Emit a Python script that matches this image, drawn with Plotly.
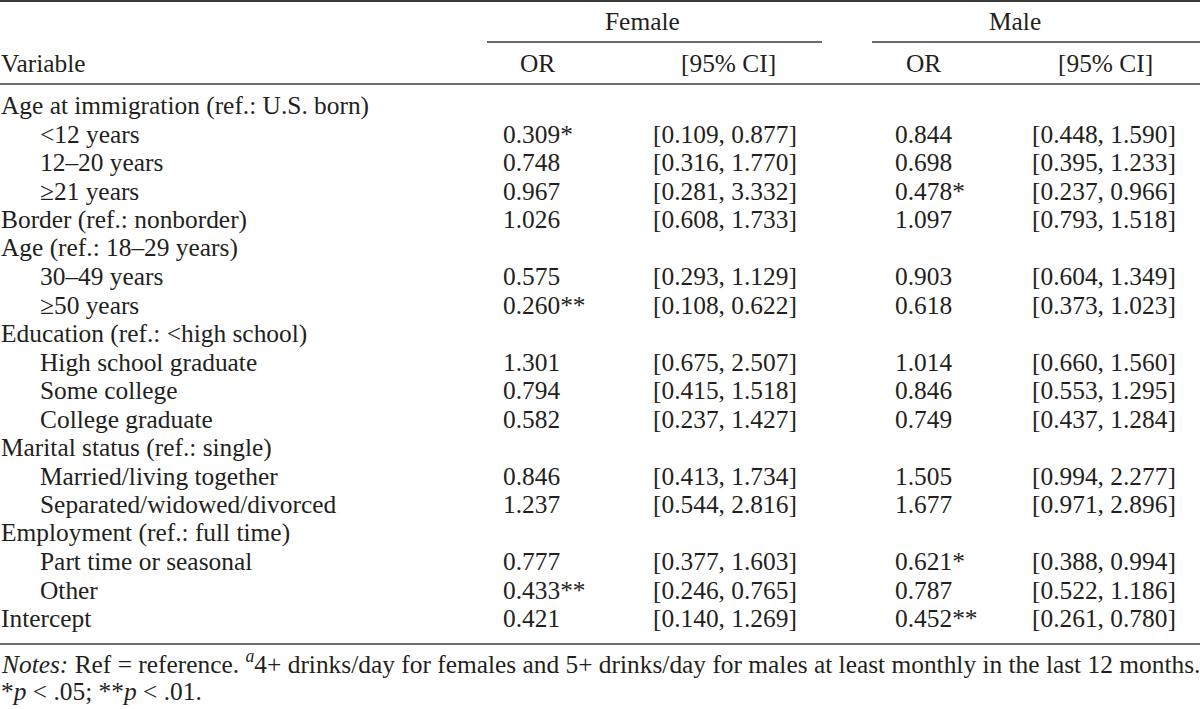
import plotly.graph_objects as go

# ---- data ----
variables = [
    "Age at immigration (ref.: U.S. born)",
    "&lt;12 years",
    "12–20 years",
    "≥21 years",
    "Border (ref.: nonborder)",
    "Age (ref.: 18–29 years)",
    "30–49 years",
    "≥50 years",
    "Education (ref.: &lt;high school)",
    "High school graduate",
    "Some college",
    "College graduate",
    "Marital status (ref.: single)",
    "Married/living together",
    "Separated/widowed/divorced",
    "Employment (ref.: full time)",
    "Part time or seasonal",
    "Other",
    "Intercept",
]
indented = [0, 1, 1, 1, 0, 0, 1, 1, 0, 1, 1, 1, 0, 1, 1, 0, 1, 1, 0]
female_or = ["", "0.309*", "0.748", "0.967", "1.026", "", "0.575", "0.260**", "",
             "1.301", "0.794", "0.582", "", "0.846", "1.237", "", "0.777", "0.433**", "0.421"]
female_ci = ["", "[0.109, 0.877]", "[0.316, 1.770]", "[0.281, 3.332]", "[0.608, 1.733]", "",
             "[0.293, 1.129]", "[0.108, 0.622]", "", "[0.675, 2.507]", "[0.415, 1.518]",
             "[0.237, 1.427]", "", "[0.413, 1.734]", "[0.544, 2.816]", "", "[0.377, 1.603]",
             "[0.246, 0.765]", "[0.140, 1.269]"]
male_or = ["", "0.844", "0.698", "0.478*", "1.097", "", "0.903", "0.618", "",
           "1.014", "0.846", "0.749", "", "1.505", "1.677", "", "0.621*", "0.787", "0.452**"]
male_ci = ["", "[0.448, 1.590]", "[0.395, 1.233]", "[0.237, 0.966]", "[0.793, 1.518]", "",
           "[0.604, 1.349]", "[0.373, 1.023]", "", "[0.660, 1.560]", "[0.553, 1.295]",
           "[0.437, 1.284]", "", "[0.994, 2.277]", "[0.971, 2.896]", "", "[0.388, 0.994]",
           "[0.522, 1.186]", "[0.261, 0.780]"]
groups = ["Female", "Male"]
col_headers = ["Variable", "OR", "[95% CI]", "OR", "[95% CI]"]
note_line1 = ("<i>Notes:</i> Ref = reference. <sup><i>a</i></sup>4+ drinks/day for females and "
              "5+ drinks/day for males at least monthly in the last 12 months.")
note_line2 = "*<i>p</i> &lt; .05; **<i>p</i> &lt; .01."

# ---- layout constants ----
W, H = 1200, 709
FONT = "Liberation Serif, Times New Roman, serif"
FS = 25.4
TXT = "#231f20"
LINE = "#3a3a3a"
row0, dy = 105, 28.5

fig = go.Figure()
ann = []

def add(text, x, y, anchor="left", size=FS):
    ann.append(dict(text=text, x=x, y=y, xref="x", yref="y", xanchor=anchor,
                    yanchor="middle", showarrow=False, borderpad=0,
                    font=dict(family=FONT, size=size, color=TXT)))

# group headers
add(groups[0], 642, 21, "center")
add(groups[1], 1015, 21, "center")
# column headers
add(col_headers[0], 0, 63, "left")
add(col_headers[1], 537, 63, "center")
add(col_headers[2], 728, 63, "center")
add(col_headers[3], 923, 63, "center")
add(col_headers[4], 1105, 63, "center")

for i, v in enumerate(variables):
    y = row0 + dy * i
    add(v, 39 if indented[i] else 0, y, "left")
    if female_or[i]:
        add(female_or[i], 502, y, "left")
    if female_ci[i]:
        add(female_ci[i], 798, y, "right")
    if male_or[i]:
        add(male_or[i], 894, y, "left")
    if male_ci[i]:
        add(male_ci[i], 1177, y, "right")

add(note_line1, 0, 662, "left")
add(note_line2, 0, 691, "left")

shapes = [
    dict(type="line", xref="x", yref="y", x0=0, x1=W, y0=1, y1=1, line=dict(color=LINE, width=2)),
    dict(type="line", xref="x", yref="y", x0=487, x1=822, y0=42, y1=42, line=dict(color=LINE, width=1.5)),
    dict(type="line", xref="x", yref="y", x0=872, x1=W, y0=42, y1=42, line=dict(color=LINE, width=1.5)),
    dict(type="line", xref="x", yref="y", x0=0, x1=W, y0=84, y1=84, line=dict(color=LINE, width=1.5)),
    dict(type="line", xref="x", yref="y", x0=0, x1=W, y0=644, y1=644, line=dict(color=LINE, width=1.5)),
]

fig.update_layout(
    width=W, height=H,
    margin=dict(l=0, r=0, t=0, b=0),
    paper_bgcolor="white", plot_bgcolor="white",
    xaxis=dict(range=[0, W], visible=False, fixedrange=True),
    yaxis=dict(range=[H, 0], visible=False, fixedrange=True),
    annotations=ann, shapes=shapes, showlegend=False,
)
fig.write_html("out.html", config={"displayModeBar": False},
               post_script="document.body.style.margin='0';document.body.style.overflow='hidden';")
